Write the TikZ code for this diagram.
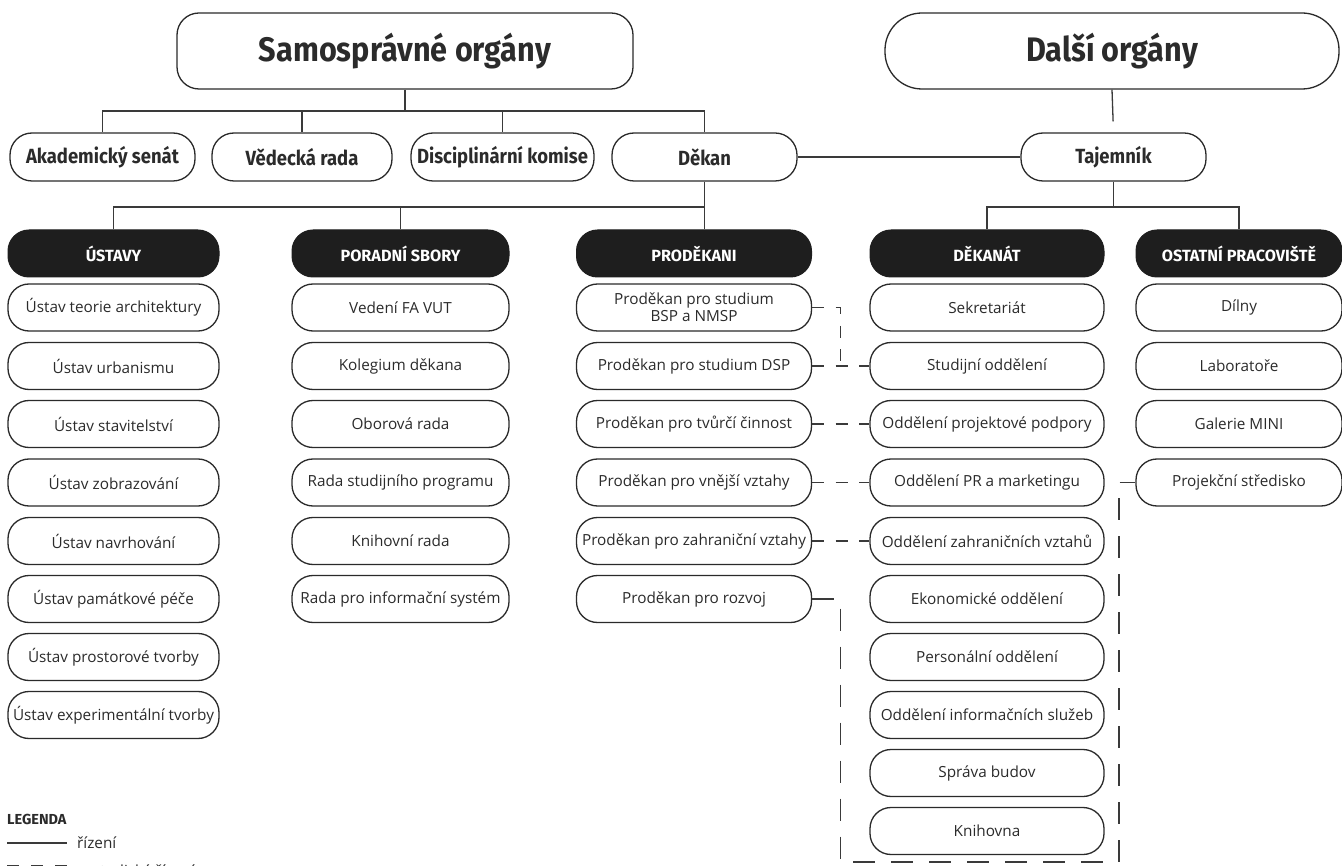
\documentclass[tikz,border=0pt]{standalone}
\usepackage{fontspec}
\usetikzlibrary{calc}
\setmainfont{Open Sans}
\newfontfamily\bodyfont{Open Sans}
\newfontfamily\headfont[FakeStretch=0.9]{Fira Sans}
\newfontfamily\widefont{Fira Sans}
\definecolor{linec}{HTML}{3A3A3A}
\definecolor{boxc}{HTML}{2A2A2A}
\definecolor{headc}{HTML}{1E1E1E}
\definecolor{textc}{HTML}{2B2B2B}
\tikzset{
  box/.style={draw=boxc, line width=1.3pt, rounded corners=21pt, minimum height=47pt, inner sep=0pt, align=center, text=textc, font=\bodyfont\fontsize{15.3}{17}\selectfont},
  head/.style={fill=headc, draw=headc, line width=1pt, rounded corners=21pt, minimum height=47pt, inner sep=0pt, text=white, font=\widefont\bfseries\fontsize{16.2}{18}\selectfont},
  rowtwo/.style={draw=boxc, line width=1.3pt, rounded corners=22pt, minimum height=48pt, inner sep=0pt, text=textc, font=\headfont\bfseries\fontsize{20.5}{23}\selectfont},
  topbox/.style={draw=boxc, line width=1.3pt, minimum height=76pt, inner sep=0pt, text=textc, font=\headfont\bfseries\fontsize{34}{38}\selectfont},
  conn/.style={draw=linec, line width=1.3pt},
  meth/.style={draw=linec, line width=1.3pt, dash pattern=on 12pt off 11.5pt},
  methlong/.style={draw=linec, line width=1.3pt, dash pattern=on 22pt off 16pt},
}
\begin{document}
\begin{tikzpicture}[x=1pt,y=-1pt]
\useasboundingbox (0,0) rectangle (1342,866);
\fill[white] (0,0) rectangle (1342,866);

% top boxes
\node[topbox, rounded corners=22pt, minimum width=456pt] (sam) at (405,51) {Samosprávné orgány};
\node[topbox, rounded corners=37pt, minimum width=454pt] (dal) at (1112,51) {Další orgány};

% row two
\node[rowtwo, minimum width=185pt] (aka) at (102.5,157) {Akademický senát};
\node[rowtwo, minimum width=180pt] (ved) at (302,157) {Vědecká rada};
\node[rowtwo, minimum width=183pt] (dis) at (502.5,157) {Disciplinární komise};
\node[rowtwo, minimum width=185pt] (dek) at (704.5,157) {Děkan};
\node[rowtwo, minimum width=185pt] (taj) at (1113.5,157) {Tajemník};

% headers
\node[head, minimum width=211pt] (ust) at (113.5,253.5) {ÚSTAVY};
\node[head, minimum width=217pt] (por) at (400.5,253.5) {PORADNÍ SBORY};
\node[head, minimum width=235pt] (pro) at (694,253.5) {PRODĚKANI};
\node[head, minimum width=234pt] (dkt) at (987,253.5) {DĚKANÁT};
\node[head, minimum width=206pt] (ost) at (1239,253.5) {OSTATNÍ PRACOVIŠTĚ};

% Ústavy
\node[box, minimum width=211pt] (u1) at (113.5,307.5) {Ústav teorie architektury};
\node[box, minimum width=211pt] (u2) at (113.5,366) {Ústav urbanismu};
\node[box, minimum width=211pt] (u3) at (113.5,424) {Ústav stavitelství};
\node[box, minimum width=211pt] (u4) at (113.5,482.5) {Ústav zobrazování};
\node[box, minimum width=211pt] (u5) at (113.5,541) {Ústav navrhování};
\node[box, minimum width=211pt] (u6) at (113.5,599) {Ústav památkové péče};
\node[box, minimum width=211pt] (u7) at (113.5,657) {Ústav prostorové tvorby};
\node[box, minimum width=211pt] (u8) at (113.5,715) {Ústav experimentální tvorby};

% Poradní sbory
\node[box, minimum width=217pt] (r1) at (400.5,307.5) {Vedení FA VUT};
\node[box, minimum width=217pt] (r2) at (400.5,366) {Kolegium děkana};
\node[box, minimum width=217pt] (r3) at (400.5,424) {Oborová rada};
\node[box, minimum width=217pt] (r4) at (400.5,482.5) {Rada studijního programu};
\node[box, minimum width=217pt] (r5) at (400.5,541) {Knihovní rada};
\node[box, minimum width=217pt] (r6) at (400.5,599) {Rada pro informační systém};

% Proděkani
\node[box, minimum width=235pt, font=\bodyfont\fontsize{15.3}{17}\selectfont] (p1) at (694,307.5) {Proděkan pro studium\\BSP a NMSP};
\node[box, minimum width=235pt] (p2) at (694,366) {Proděkan pro studium DSP};
\node[box, minimum width=235pt] (p3) at (694,424) {Proděkan pro tvůrčí činnost};
\node[box, minimum width=235pt] (p4) at (694,482.5) {Proděkan pro vnější vztahy};
\node[box, minimum width=235pt] (p5) at (694,541) {Proděkan pro zahraniční vztahy};
\node[box, minimum width=235pt] (p6) at (694,599) {Proděkan pro rozvoj};

% Děkanát
\node[box, minimum width=234pt] (k1) at (987,307.5) {Sekretariát};
\node[box, minimum width=234pt] (k2) at (987,366) {Studijní oddělení};
\node[box, minimum width=234pt] (k3) at (987,424) {Oddělení projektové podpory};
\node[box, minimum width=234pt] (k4) at (987,482.5) {Oddělení PR a marketingu};
\node[box, minimum width=234pt] (k5) at (987,541) {Oddělení zahraničních vztahů};
\node[box, minimum width=234pt] (k6) at (987,599) {Ekonomické oddělení};
\node[box, minimum width=234pt] (k7) at (987,657) {Personální oddělení};
\node[box, minimum width=234pt] (k8) at (987,715) {Oddělení informačních služeb};
\node[box, minimum width=234pt] (k9) at (987,773) {Správa budov};
\node[box, minimum width=234pt] (k10) at (987,831) {Knihovna};

% Ostatní pracoviště
\node[box, minimum width=206pt] (o1) at (1239,307.5) {Dílny};
\node[box, minimum width=206pt] (o2) at (1239,366) {Laboratoře};
\node[box, minimum width=206pt] (o3) at (1239,424) {Galerie MINI};
\node[box, minimum width=206pt] (o4) at (1239,482.5) {Projekční středisko};

% solid connectors
\coordinate (j1) at (405,111);
\draw[conn] (sam.south) -- (j1);
\draw[conn] (j1) -| (aka.north);
\draw[conn] (j1) -| (ved.north);
\draw[conn] (j1) -| (dis.north);
\draw[conn] (j1) -| (dek.north);
\draw[conn] (dek.east) -- (taj.west);
\draw[conn, shorten >=11pt] (dal.south) -- (taj.north);

\coordinate (j2) at (704.5,207);
\draw[conn] (dek.south) -- (dek.south |- pro.north);
\draw[conn] (j2) -| (ust.north);
\draw[conn] (j2) -| (por.north);

\coordinate (j3) at (1113.5,207);
\draw[conn] (taj.south) -- (j3);
\draw[conn] (j3) -| (dkt.north);
\draw[conn] (j3) -| (ost.north);

% methodical (dashed) connectors
\draw[meth] (p1.east) -| ($(p2.east)!0.5!(k2.west)$);
\draw[meth] (p2.east) -- (k2.west);
\draw[meth] (p3.east) -- (k3.west);
\draw[meth] (p4.east) -- (k4.west);
\draw[meth] (p5.east) -- (k5.west);
\coordinate (c1) at (840.5,862);
\coordinate (c2) at (1119,862);
\draw[methlong] (p6.east) -| (c1) -- (c2) |- (o4.west);

% legend
\node[anchor=west, inner sep=0pt, text=textc, font=\widefont\bfseries\fontsize{14.5}{16}\selectfont] (leg) at (7,819) {LEGENDA};
\coordinate (la) at (7,843);
\coordinate (lb) at (67,843);
\draw[conn] (la) -- (lb);
\node[anchor=west, inner sep=0pt, text=textc, font=\bodyfont\fontsize{15.3}{17}\selectfont] (lt1) at (77,843) {řízení};
\coordinate (lc) at (7,866);
\coordinate (ld) at (67,866);
\draw[conn, dash pattern=on 12pt off 12pt] (lc) -- (ld);
\node[anchor=west, inner sep=0pt, text=textc, font=\bodyfont\fontsize{15.3}{17}\selectfont] (lt2) at (77,871) {metodické řízení};
\end{tikzpicture}
\end{document}
